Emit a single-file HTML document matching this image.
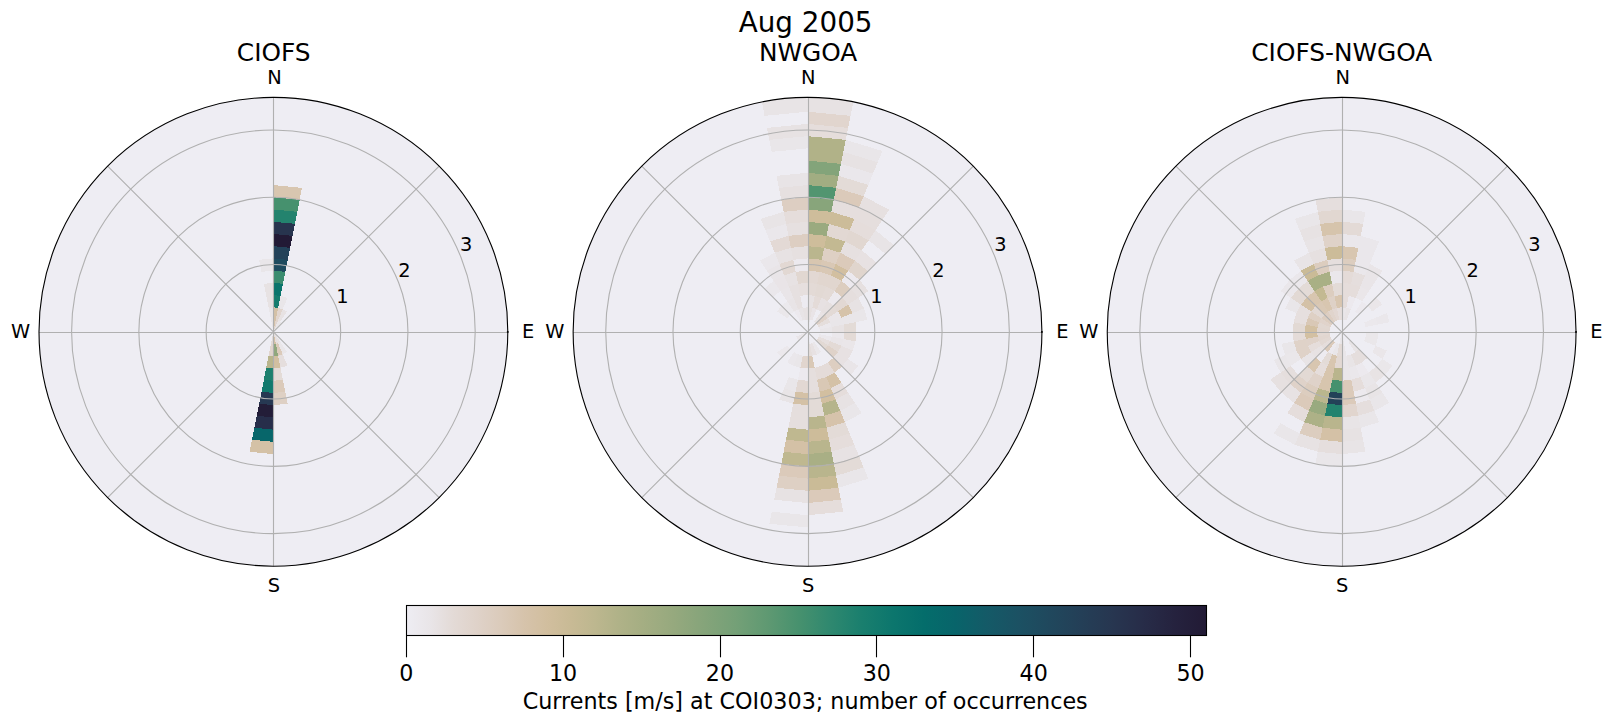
<!DOCTYPE html>
<html><head><meta charset="utf-8"><title>Aug 2005</title>
<style>html,body{margin:0;padding:0;background:#fff;}body{width:1611px;height:724px;overflow:hidden;position:relative;font-family:"DejaVu Sans","Liberation Sans",sans-serif;}</style></head>
<body>
<svg width="1611" height="724" viewBox="0 0 1611 724" style="position:absolute;left:0;top:0">
<defs>
<clipPath id="c0"><circle cx="273.4" cy="331.8" r="234.4"/></clipPath>
<clipPath id="c1"><circle cx="807.53" cy="331.8" r="234.4"/></clipPath>
<clipPath id="c2"><circle cx="1341.65" cy="331.8" r="234.4"/></clipPath>
<linearGradient id="cb" x1="0" x2="1" y1="0" y2="0"><stop offset="0.00%" stop-color="#eeedf3"/><stop offset="2.94%" stop-color="#e9e5e8"/><stop offset="5.88%" stop-color="#e3dad6"/><stop offset="8.82%" stop-color="#dfd2c9"/><stop offset="11.76%" stop-color="#dbcbbb"/><stop offset="14.71%" stop-color="#d6c3ab"/><stop offset="17.65%" stop-color="#d1be9e"/><stop offset="20.59%" stop-color="#c8ba95"/><stop offset="23.53%" stop-color="#bdb78f"/><stop offset="26.47%" stop-color="#b0b288"/><stop offset="29.41%" stop-color="#a5ae83"/><stop offset="33.33%" stop-color="#96a97e"/><stop offset="37.25%" stop-color="#85a47a"/><stop offset="41.18%" stop-color="#74a077"/><stop offset="45.10%" stop-color="#5f9972"/><stop offset="49.02%" stop-color="#47916e"/><stop offset="52.94%" stop-color="#2f886f"/><stop offset="56.86%" stop-color="#1a7f6e"/><stop offset="60.78%" stop-color="#0c766d"/><stop offset="64.71%" stop-color="#046d6b"/><stop offset="68.63%" stop-color="#08646a"/><stop offset="72.55%" stop-color="#145a67"/><stop offset="76.47%" stop-color="#1b5163"/><stop offset="80.39%" stop-color="#20485d"/><stop offset="84.31%" stop-color="#243f57"/><stop offset="88.24%" stop-color="#273650"/><stop offset="92.16%" stop-color="#272c48"/><stop offset="96.08%" stop-color="#25223e"/><stop offset="100.00%" stop-color="#221a35"/></linearGradient>
</defs>
<rect width="1611" height="724" fill="#fff"/>
<circle cx="273.4" cy="331.8" r="234.4" fill="#eeedf3"/>
<g clip-path="url(#c0)" shape-rendering="crispEdges">
<path d="M273.40 331.80 L273.40 331.80 L275.79 319.80 L273.40 319.57Z" fill="#d6c3ab"/>
<path d="M273.40 319.57 L275.79 319.80 L278.17 307.81 L273.40 307.34Z" fill="#d4c1a6"/>
<path d="M273.40 307.34 L278.17 307.81 L280.56 295.81 L273.40 295.11Z" fill="#167c6e"/>
<path d="M273.40 295.11 L280.56 295.81 L282.94 283.82 L273.40 282.88Z" fill="#0a746c"/>
<path d="M273.40 282.88 L282.94 283.82 L285.33 271.82 L273.40 270.65Z" fill="#3a8c6f"/>
<path d="M273.40 270.65 L285.33 271.82 L287.72 259.83 L273.40 258.42Z" fill="#1e4b5f"/>
<path d="M273.40 258.42 L287.72 259.83 L290.10 247.83 L273.40 246.19Z" fill="#234259"/>
<path d="M273.40 246.19 L290.10 247.83 L292.49 235.84 L273.40 233.96Z" fill="#221a35"/>
<path d="M273.40 233.96 L292.49 235.84 L294.87 223.84 L273.40 221.73Z" fill="#27344e"/>
<path d="M273.40 221.73 L294.87 223.84 L297.26 211.85 L273.40 209.50Z" fill="#23836e"/>
<path d="M273.40 209.50 L297.26 211.85 L299.65 199.85 L273.40 197.27Z" fill="#46916e"/>
<path d="M273.40 197.27 L299.65 199.85 L302.03 187.86 L273.40 185.04Z" fill="#d8c6b0"/>
<path d="M273.40 331.80 L273.40 331.80 L278.08 320.50 L275.79 319.80Z" fill="#e1d5ce"/>
<path d="M275.79 319.80 L278.08 320.50 L282.76 309.20 L278.17 307.81Z" fill="#e1d5ce"/>
<path d="M278.17 307.81 L282.76 309.20 L287.44 297.90 L280.56 295.81Z" fill="#e9e6e9"/>
<path d="M273.40 331.80 L273.40 331.80 L280.19 321.63 L278.08 320.50Z" fill="#e9e6e9"/>
<path d="M278.08 320.50 L280.19 321.63 L286.99 311.46 L282.76 309.20Z" fill="#e7e2e3"/>
<path d="M273.40 331.80 L273.40 331.80 L282.05 323.15 L280.19 321.63Z" fill="#e9e6e9"/>
<path d="M273.40 331.80 L273.40 331.80 L278.08 343.10 L280.19 341.97Z" fill="#e7e2e3"/>
<path d="M280.19 341.97 L278.08 343.10 L282.76 354.40 L286.99 352.14Z" fill="#e9e6e9"/>
<path d="M273.40 331.80 L273.40 331.80 L275.79 343.80 L278.08 343.10Z" fill="#e5dedd"/>
<path d="M278.08 343.10 L275.79 343.80 L278.17 355.79 L282.76 354.40Z" fill="#dbcaba"/>
<path d="M282.76 354.40 L278.17 355.79 L280.56 367.79 L287.44 365.70Z" fill="#e5dedd"/>
<path d="M273.40 331.80 L273.40 331.80 L273.40 344.03 L275.79 343.80Z" fill="#d4c1a6"/>
<path d="M275.79 343.80 L273.40 344.03 L273.40 356.26 L278.17 355.79Z" fill="#90a77d"/>
<path d="M278.17 355.79 L273.40 356.26 L273.40 368.49 L280.56 367.79Z" fill="#d2bfa0"/>
<path d="M280.56 367.79 L273.40 368.49 L273.40 380.72 L282.94 379.78Z" fill="#e3dbd7"/>
<path d="M282.94 379.78 L273.40 380.72 L273.40 392.95 L285.33 391.78Z" fill="#dbcaba"/>
<path d="M285.33 391.78 L273.40 392.95 L273.40 405.18 L287.72 403.77Z" fill="#ded0c4"/>
<path d="M273.40 331.80 L273.40 331.80 L271.01 343.80 L273.40 344.03Z" fill="#e3dbd7"/>
<path d="M273.40 344.03 L271.01 343.80 L268.63 355.79 L273.40 356.26Z" fill="#e1d5ce"/>
<path d="M273.40 356.26 L268.63 355.79 L266.24 367.79 L273.40 368.49Z" fill="#b9b58d"/>
<path d="M273.40 368.49 L266.24 367.79 L263.86 379.78 L273.40 380.72Z" fill="#1d806e"/>
<path d="M273.40 380.72 L263.86 379.78 L261.47 391.78 L273.40 392.95Z" fill="#10796d"/>
<path d="M273.40 392.95 L261.47 391.78 L259.08 403.77 L273.40 405.18Z" fill="#263852"/>
<path d="M273.40 405.18 L259.08 403.77 L256.70 415.77 L273.40 417.41Z" fill="#231d38"/>
<path d="M273.40 417.41 L256.70 415.77 L254.31 427.76 L273.40 429.64Z" fill="#272e4a"/>
<path d="M273.40 429.64 L254.31 427.76 L251.93 439.76 L273.40 441.87Z" fill="#07666a"/>
<path d="M273.40 441.87 L251.93 439.76 L249.54 451.75 L273.40 454.10Z" fill="#d4c1a6"/>
<path d="M273.40 331.80 L273.40 331.80 L273.40 319.57 L271.01 319.80Z" fill="#e9e6e9"/>
<path d="M271.01 319.80 L273.40 319.57 L273.40 307.34 L268.63 307.81Z" fill="#e9e6e9"/>
<path d="M268.63 307.81 L273.40 307.34 L273.40 295.11 L266.24 295.81Z" fill="#e7e2e3"/>
<path d="M266.24 295.81 L273.40 295.11 L273.40 282.88 L263.86 283.82Z" fill="#e7e2e3"/>
<path d="M261.47 271.82 L273.40 270.65 L273.40 258.42 L259.08 259.83Z" fill="#e9e6e9"/>
</g>
<path d="M273.40 331.80L439.15 166.05M273.40 331.80L439.15 497.55M273.40 331.80L107.65 497.55M273.40 331.80L107.65 166.05M273.5 97.40V566.20M39.00 332.5H507.80" stroke="#b0b0b0" stroke-width="1.1" fill="none"/>
<circle cx="273.4" cy="331.8" r="67.27" stroke="#b0b0b0" stroke-width="1.1" fill="none"/>
<circle cx="273.4" cy="331.8" r="134.54" stroke="#b0b0b0" stroke-width="1.1" fill="none"/>
<circle cx="273.4" cy="331.8" r="201.81" stroke="#b0b0b0" stroke-width="1.1" fill="none"/>
<circle cx="273.4" cy="331.8" r="234.4" stroke="#000" stroke-width="1.1" fill="none"/>
<rect x="506.90" y="331.10" width="1.7" height="1.7" fill="#000"/>
<text x="274.45" y="84.0" font-size="19.4" text-anchor="middle" font-family="DejaVu Sans, sans-serif">N</text>
<text x="274.00" y="592" font-size="19.4" text-anchor="middle" font-family="DejaVu Sans, sans-serif">S</text>
<text x="528.25" y="338" font-size="19.4" text-anchor="middle" font-family="DejaVu Sans, sans-serif">E</text>
<text x="20.65" y="338" font-size="19.4" text-anchor="middle" font-family="DejaVu Sans, sans-serif">W</text>
<text x="342.30" y="303" font-size="19.4" text-anchor="middle" font-family="DejaVu Sans, sans-serif">1</text>
<text x="404.40" y="277" font-size="19.4" text-anchor="middle" font-family="DejaVu Sans, sans-serif">2</text>
<text x="466.20" y="251" font-size="19.4" text-anchor="middle" font-family="DejaVu Sans, sans-serif">3</text>
<text x="273.7" y="61" font-size="24.8" text-anchor="middle" font-family="DejaVu Sans, sans-serif">CIOFS</text>
<circle cx="807.53" cy="331.8" r="234.4" fill="#eeedf3"/>
<g clip-path="url(#c1)" shape-rendering="crispEdges">
<path d="M807.53 331.80 L807.53 331.80 L809.92 319.80 L807.53 319.57Z" fill="#e9e6e9"/>
<path d="M807.53 319.57 L809.92 319.80 L812.30 307.81 L807.53 307.34Z" fill="#e6e0e0"/>
<path d="M807.53 307.34 L812.30 307.81 L814.69 295.81 L807.53 295.11Z" fill="#e7e2e3"/>
<path d="M807.53 295.11 L814.69 295.81 L817.07 283.82 L807.53 282.88Z" fill="#e3dad6"/>
<path d="M807.53 282.88 L817.07 283.82 L819.46 271.82 L807.53 270.65Z" fill="#e2d8d3"/>
<path d="M807.53 270.65 L819.46 271.82 L821.85 259.83 L807.53 258.42Z" fill="#d8c6b0"/>
<path d="M807.53 258.42 L821.85 259.83 L824.23 247.83 L807.53 246.19Z" fill="#bab68e"/>
<path d="M807.53 246.19 L824.23 247.83 L826.62 235.84 L807.53 233.96Z" fill="#cebd9b"/>
<path d="M807.53 233.96 L826.62 235.84 L829.00 223.84 L807.53 221.73Z" fill="#9aaa7f"/>
<path d="M807.53 221.73 L829.00 223.84 L831.39 211.85 L807.53 209.50Z" fill="#cebd9b"/>
<path d="M807.53 209.50 L831.39 211.85 L833.78 199.85 L807.53 197.27Z" fill="#88a57b"/>
<path d="M807.53 197.27 L833.78 199.85 L836.16 187.86 L807.53 185.04Z" fill="#529570"/>
<path d="M807.53 185.04 L836.16 187.86 L838.55 175.86 L807.53 172.81Z" fill="#a1ad82"/>
<path d="M807.53 172.81 L838.55 175.86 L840.93 163.87 L807.53 160.58Z" fill="#83a47a"/>
<path d="M807.53 160.58 L840.93 163.87 L843.32 151.87 L807.53 148.35Z" fill="#b1b288"/>
<path d="M807.53 148.35 L843.32 151.87 L845.71 139.88 L807.53 136.12Z" fill="#b1b288"/>
<path d="M807.53 136.12 L845.71 139.88 L848.09 127.88 L807.53 123.89Z" fill="#e5dddb"/>
<path d="M807.53 123.89 L848.09 127.88 L850.48 115.89 L807.53 111.66Z" fill="#e1d5ce"/>
<path d="M807.53 111.66 L850.48 115.89 L853.58 100.30 L807.53 95.76Z" fill="#e7e2e3"/>
<path d="M809.92 319.80 L812.21 320.50 L816.89 309.20 L812.30 307.81Z" fill="#e9e4e7"/>
<path d="M812.30 307.81 L816.89 309.20 L821.57 297.90 L814.69 295.81Z" fill="#e4dbd8"/>
<path d="M814.69 295.81 L821.57 297.90 L826.25 286.60 L817.07 283.82Z" fill="#e2d9d4"/>
<path d="M817.07 283.82 L826.25 286.60 L830.93 275.30 L819.46 271.82Z" fill="#e1d6cf"/>
<path d="M819.46 271.82 L830.93 275.30 L835.61 264.01 L821.85 259.83Z" fill="#d9c8b5"/>
<path d="M821.85 259.83 L835.61 264.01 L840.29 252.71 L824.23 247.83Z" fill="#ded0c4"/>
<path d="M824.23 247.83 L840.29 252.71 L844.97 241.41 L826.62 235.84Z" fill="#c3b992"/>
<path d="M826.62 235.84 L844.97 241.41 L849.65 230.11 L829.00 223.84Z" fill="#e2d8d3"/>
<path d="M829.00 223.84 L849.65 230.11 L854.33 218.81 L831.39 211.85Z" fill="#ccbc99"/>
<path d="M831.39 211.85 L854.33 218.81 L859.01 207.51 L833.78 199.85Z" fill="#e5dedd"/>
<path d="M833.78 199.85 L859.01 207.51 L863.69 196.21 L836.16 187.86Z" fill="#dbcaba"/>
<path d="M836.16 187.86 L863.69 196.21 L868.37 184.91 L838.55 175.86Z" fill="#e3dbd7"/>
<path d="M838.55 175.86 L868.37 184.91 L873.05 173.61 L840.93 163.87Z" fill="#eae7eb"/>
<path d="M840.93 163.87 L873.05 173.61 L877.73 162.31 L843.32 151.87Z" fill="#e7e2e3"/>
<path d="M843.32 151.87 L877.73 162.31 L882.41 151.02 L845.71 139.88Z" fill="#e9e6e9"/>
<path d="M816.89 309.20 L821.12 311.46 L827.91 301.29 L821.57 297.90Z" fill="#e7e1e2"/>
<path d="M821.57 297.90 L827.91 301.29 L834.71 291.12 L826.25 286.60Z" fill="#e3dad6"/>
<path d="M826.25 286.60 L834.71 291.12 L841.50 280.96 L830.93 275.30Z" fill="#e1d6cf"/>
<path d="M830.93 275.30 L841.50 280.96 L848.30 270.79 L835.61 264.01Z" fill="#d2bfa0"/>
<path d="M835.61 264.01 L848.30 270.79 L855.09 260.62 L840.29 252.71Z" fill="#dbcaba"/>
<path d="M840.29 252.71 L855.09 260.62 L861.89 250.45 L844.97 241.41Z" fill="#e6e0e0"/>
<path d="M844.97 241.41 L861.89 250.45 L868.68 240.28 L849.65 230.11Z" fill="#e1d7d1"/>
<path d="M849.65 230.11 L868.68 240.28 L875.48 230.11 L854.33 218.81Z" fill="#e5dddb"/>
<path d="M854.33 218.81 L875.48 230.11 L882.27 219.94 L859.01 207.51Z" fill="#e5dedd"/>
<path d="M859.01 207.51 L882.27 219.94 L889.07 209.77 L863.69 196.21Z" fill="#e6e0e0"/>
<path d="M814.32 321.63 L816.18 323.15 L824.83 314.50 L821.12 311.46Z" fill="#e8e3e4"/>
<path d="M821.12 311.46 L824.83 314.50 L833.47 305.86 L827.91 301.29Z" fill="#e6e0e0"/>
<path d="M827.91 301.29 L833.47 305.86 L842.12 297.21 L834.71 291.12Z" fill="#ece9ee"/>
<path d="M834.71 291.12 L842.12 297.21 L850.77 288.56 L841.50 280.96Z" fill="#dccdbf"/>
<path d="M841.50 280.96 L850.77 288.56 L859.42 279.91 L848.30 270.79Z" fill="#ece9ee"/>
<path d="M848.30 270.79 L859.42 279.91 L868.07 271.26 L855.09 260.62Z" fill="#e0d5cd"/>
<path d="M855.09 260.62 L868.07 271.26 L876.71 262.62 L861.89 250.45Z" fill="#e7e1e2"/>
<path d="M868.68 240.28 L885.36 253.97 L894.01 245.32 L875.48 230.11Z" fill="#e8e4e6"/>
<path d="M816.18 323.15 L817.70 325.01 L827.87 318.21 L824.83 314.50Z" fill="#dfd2c9"/>
<path d="M824.83 314.50 L827.87 318.21 L838.04 311.42 L833.47 305.86Z" fill="#e3dad6"/>
<path d="M833.47 305.86 L838.04 311.42 L848.21 304.62 L842.12 297.21Z" fill="#e2d8d3"/>
<path d="M842.12 297.21 L848.21 304.62 L858.37 297.83 L850.77 288.56Z" fill="#e5dedd"/>
<path d="M850.77 288.56 L858.37 297.83 L868.54 291.03 L859.42 279.91Z" fill="#e6e0e0"/>
<path d="M817.70 325.01 L818.83 327.12 L830.13 322.44 L827.87 318.21Z" fill="#e5dedc"/>
<path d="M827.87 318.21 L830.13 322.44 L841.43 317.76 L838.04 311.42Z" fill="#eae6e9"/>
<path d="M838.04 311.42 L841.43 317.76 L852.73 313.08 L848.21 304.62Z" fill="#d6c3aa"/>
<path d="M848.21 304.62 L852.73 313.08 L864.03 308.40 L858.37 297.83Z" fill="#e7e2e3"/>
<path d="M818.83 327.12 L819.53 329.41 L831.52 327.03 L830.13 322.44Z" fill="#ebe8ec"/>
<path d="M830.13 322.44 L831.52 327.03 L843.52 324.64 L841.43 317.76Z" fill="#e9e6e9"/>
<path d="M841.43 317.76 L843.52 324.64 L855.51 322.26 L852.73 313.08Z" fill="#e9e6e9"/>
<path d="M852.73 313.08 L855.51 322.26 L867.51 319.87 L864.03 308.40Z" fill="#e9e6e9"/>
<path d="M819.53 329.41 L819.76 331.80 L831.99 331.80 L831.52 327.03Z" fill="#e9e6e9"/>
<path d="M831.52 327.03 L831.99 331.80 L844.22 331.80 L843.52 324.64Z" fill="#e7e2e3"/>
<path d="M843.52 324.64 L844.22 331.80 L856.45 331.80 L855.51 322.26Z" fill="#e3dbd7"/>
<path d="M831.99 331.80 L831.52 336.57 L843.52 338.96 L844.22 331.80Z" fill="#ebe8ec"/>
<path d="M844.22 331.80 L843.52 338.96 L855.51 341.34 L856.45 331.80Z" fill="#e3dad6"/>
<path d="M819.53 334.19 L818.83 336.48 L830.13 341.16 L831.52 336.57Z" fill="#ebe8ec"/>
<path d="M831.52 336.57 L830.13 341.16 L841.43 345.84 L843.52 338.96Z" fill="#e9e5e8"/>
<path d="M843.52 338.96 L841.43 345.84 L852.73 350.52 L855.51 341.34Z" fill="#eae6e9"/>
<path d="M818.83 336.48 L817.70 338.59 L827.87 345.39 L830.13 341.16Z" fill="#e6dfde"/>
<path d="M830.13 341.16 L827.87 345.39 L838.04 352.18 L841.43 345.84Z" fill="#e3dad6"/>
<path d="M841.43 345.84 L838.04 352.18 L848.21 358.98 L852.73 350.52Z" fill="#e7e1e2"/>
<path d="M817.70 338.59 L816.18 340.45 L824.83 349.10 L827.87 345.39Z" fill="#e2d9d4"/>
<path d="M827.87 345.39 L824.83 349.10 L833.47 357.74 L838.04 352.18Z" fill="#dfd2c9"/>
<path d="M838.04 352.18 L833.47 357.74 L842.12 366.39 L848.21 358.98Z" fill="#e7e1e2"/>
<path d="M848.21 358.98 L842.12 366.39 L850.77 375.04 L858.37 365.77Z" fill="#e9e5e8"/>
<path d="M833.47 357.74 L827.91 362.31 L834.71 372.48 L842.12 366.39Z" fill="#ddcec1"/>
<path d="M814.32 341.97 L812.21 343.10 L816.89 354.40 L821.12 352.14Z" fill="#eae7ea"/>
<path d="M827.91 362.31 L821.57 365.70 L826.25 377.00 L834.71 372.48Z" fill="#e4dbd8"/>
<path d="M834.71 372.48 L826.25 377.00 L830.93 388.30 L841.50 382.64Z" fill="#d4c1a6"/>
<path d="M841.50 382.64 L830.93 388.30 L835.61 399.59 L848.30 392.81Z" fill="#e5dddb"/>
<path d="M848.30 392.81 L835.61 399.59 L840.29 410.89 L855.09 402.98Z" fill="#e7e2e3"/>
<path d="M855.09 402.98 L840.29 410.89 L844.97 422.19 L861.89 413.15Z" fill="#e9e6e9"/>
<path d="M812.21 343.10 L809.92 343.80 L812.30 355.79 L816.89 354.40Z" fill="#e7e1e2"/>
<path d="M821.57 365.70 L814.69 367.79 L817.07 379.78 L826.25 377.00Z" fill="#e4dbd8"/>
<path d="M826.25 377.00 L817.07 379.78 L819.46 391.78 L830.93 388.30Z" fill="#d9c8b5"/>
<path d="M830.93 388.30 L819.46 391.78 L821.85 403.77 L835.61 399.59Z" fill="#d2bfa0"/>
<path d="M835.61 399.59 L821.85 403.77 L824.23 415.77 L840.29 410.89Z" fill="#b5b48b"/>
<path d="M840.29 410.89 L824.23 415.77 L826.62 427.76 L844.97 422.19Z" fill="#d6c3ab"/>
<path d="M844.97 422.19 L826.62 427.76 L829.00 439.76 L849.65 433.49Z" fill="#e3dbd7"/>
<path d="M849.65 433.49 L829.00 439.76 L831.39 451.75 L854.33 444.79Z" fill="#e5dddb"/>
<path d="M854.33 444.79 L831.39 451.75 L833.78 463.75 L859.01 456.09Z" fill="#e7e2e3"/>
<path d="M859.01 456.09 L833.78 463.75 L836.16 475.74 L863.69 467.39Z" fill="#e3dbd7"/>
<path d="M863.69 467.39 L836.16 475.74 L838.55 487.74 L868.37 478.69Z" fill="#e9e6e9"/>
<path d="M807.53 331.80 L807.53 331.80 L807.53 344.03 L809.92 343.80Z" fill="#eae7ea"/>
<path d="M809.92 343.80 L807.53 344.03 L807.53 356.26 L812.30 355.79Z" fill="#e5dedc"/>
<path d="M812.30 355.79 L807.53 356.26 L807.53 368.49 L814.69 367.79Z" fill="#d9c8b6"/>
<path d="M814.69 367.79 L807.53 368.49 L807.53 380.72 L817.07 379.78Z" fill="#e5dedd"/>
<path d="M817.07 379.78 L807.53 380.72 L807.53 392.95 L819.46 391.78Z" fill="#e5dedd"/>
<path d="M819.46 391.78 L807.53 392.95 L807.53 405.18 L821.85 403.77Z" fill="#e3dbd7"/>
<path d="M821.85 403.77 L807.53 405.18 L807.53 417.41 L824.23 415.77Z" fill="#e3dbd7"/>
<path d="M824.23 415.77 L807.53 417.41 L807.53 429.64 L826.62 427.76Z" fill="#b9b58d"/>
<path d="M826.62 427.76 L807.53 429.64 L807.53 441.87 L829.00 439.76Z" fill="#cdbc9a"/>
<path d="M829.00 439.76 L807.53 441.87 L807.53 454.10 L831.39 451.75Z" fill="#b9b58d"/>
<path d="M831.39 451.75 L807.53 454.10 L807.53 466.33 L833.78 463.75Z" fill="#a9af85"/>
<path d="M833.78 463.75 L807.53 466.33 L807.53 478.56 L836.16 475.74Z" fill="#b9b58d"/>
<path d="M836.16 475.74 L807.53 478.56 L807.53 490.79 L838.55 487.74Z" fill="#cabb97"/>
<path d="M838.55 487.74 L807.53 490.79 L807.53 503.02 L840.93 499.73Z" fill="#dbcaba"/>
<path d="M840.93 499.73 L807.53 503.02 L807.53 515.25 L843.32 511.73Z" fill="#e5dddb"/>
<path d="M807.53 356.26 L802.76 355.79 L800.37 367.79 L807.53 368.49Z" fill="#e1d5ce"/>
<path d="M807.53 368.49 L800.37 367.79 L797.99 379.78 L807.53 380.72Z" fill="#ece9ee"/>
<path d="M807.53 380.72 L797.99 379.78 L795.60 391.78 L807.53 392.95Z" fill="#e2d8d3"/>
<path d="M807.53 392.95 L795.60 391.78 L793.21 403.77 L807.53 405.18Z" fill="#d4c1a6"/>
<path d="M807.53 405.18 L793.21 403.77 L790.83 415.77 L807.53 417.41Z" fill="#e5dedd"/>
<path d="M807.53 417.41 L790.83 415.77 L788.44 427.76 L807.53 429.64Z" fill="#e5dedd"/>
<path d="M807.53 429.64 L788.44 427.76 L786.06 439.76 L807.53 441.87Z" fill="#bfb890"/>
<path d="M807.53 441.87 L786.06 439.76 L783.67 451.75 L807.53 454.10Z" fill="#d4c1a6"/>
<path d="M807.53 454.10 L783.67 451.75 L781.28 463.75 L807.53 466.33Z" fill="#bfb890"/>
<path d="M807.53 466.33 L781.28 463.75 L778.90 475.74 L807.53 478.56Z" fill="#dbcaba"/>
<path d="M807.53 478.56 L778.90 475.74 L776.51 487.74 L807.53 490.79Z" fill="#ded0c4"/>
<path d="M807.53 490.79 L776.51 487.74 L774.13 499.73 L807.53 503.02Z" fill="#e7e2e3"/>
<path d="M807.53 515.25 L771.74 511.73 L769.35 523.72 L807.53 527.48Z" fill="#e9e6e9"/>
<path d="M802.76 355.79 L798.17 354.40 L793.49 365.70 L800.37 367.79Z" fill="#e9e6e9"/>
<path d="M797.99 379.78 L788.81 377.00 L784.13 388.30 L795.60 391.78Z" fill="#e9e6e9"/>
<path d="M795.60 391.78 L784.13 388.30 L779.45 399.59 L793.21 403.77Z" fill="#e8e4e6"/>
<path d="M798.17 354.40 L793.94 352.14 L787.15 362.31 L793.49 365.70Z" fill="#eae7eb"/>
<path d="M807.53 331.80 L807.53 331.80 L797.36 338.59 L798.88 340.45Z" fill="#eae6e9"/>
<path d="M790.23 349.10 L787.19 345.39 L777.02 352.18 L781.59 357.74Z" fill="#ebe8ec"/>
<path d="M807.53 331.80 L807.53 331.80 L796.23 336.48 L797.36 338.59Z" fill="#e9e5e8"/>
<path d="M787.19 318.21 L790.23 314.50 L781.59 305.86 L777.02 311.42Z" fill="#eae7ea"/>
<path d="M790.23 314.50 L793.94 311.46 L787.15 301.29 L781.59 305.86Z" fill="#ebe9ed"/>
<path d="M772.94 297.21 L780.35 291.12 L773.56 280.96 L764.29 288.56Z" fill="#eae7eb"/>
<path d="M800.74 321.63 L802.85 320.50 L798.17 309.20 L793.94 311.46Z" fill="#ece9ee"/>
<path d="M793.94 311.46 L798.17 309.20 L793.49 297.90 L787.15 301.29Z" fill="#e8e4e6"/>
<path d="M787.15 301.29 L793.49 297.90 L788.81 286.60 L780.35 291.12Z" fill="#e9e5e8"/>
<path d="M780.35 291.12 L788.81 286.60 L784.13 275.30 L773.56 280.96Z" fill="#e9e4e7"/>
<path d="M773.56 280.96 L784.13 275.30 L779.45 264.01 L766.76 270.79Z" fill="#e9e5e8"/>
<path d="M766.76 270.79 L779.45 264.01 L774.77 252.71 L759.97 260.62Z" fill="#eae7eb"/>
<path d="M802.85 320.50 L805.14 319.80 L802.76 307.81 L798.17 309.20Z" fill="#e8e4e6"/>
<path d="M798.17 309.20 L802.76 307.81 L800.37 295.81 L793.49 297.90Z" fill="#e6e0e0"/>
<path d="M793.49 297.90 L800.37 295.81 L797.99 283.82 L788.81 286.60Z" fill="#e6e0e0"/>
<path d="M788.81 286.60 L797.99 283.82 L795.60 271.82 L784.13 275.30Z" fill="#e7e2e3"/>
<path d="M784.13 275.30 L795.60 271.82 L793.21 259.83 L779.45 264.01Z" fill="#e2d8d3"/>
<path d="M779.45 264.01 L793.21 259.83 L790.83 247.83 L774.77 252.71Z" fill="#e7e2e3"/>
<path d="M774.77 252.71 L790.83 247.83 L788.44 235.84 L770.09 241.41Z" fill="#e3d9d5"/>
<path d="M770.09 241.41 L788.44 235.84 L786.06 223.84 L765.41 230.11Z" fill="#eae7eb"/>
<path d="M765.41 230.11 L786.06 223.84 L783.67 211.85 L760.73 218.81Z" fill="#e8e4e6"/>
<path d="M805.14 319.80 L807.53 319.57 L807.53 307.34 L802.76 307.81Z" fill="#e7e2e3"/>
<path d="M802.76 307.81 L807.53 307.34 L807.53 295.11 L800.37 295.81Z" fill="#edebf1"/>
<path d="M800.37 295.81 L807.53 295.11 L807.53 282.88 L797.99 283.82Z" fill="#e6dfde"/>
<path d="M797.99 283.82 L807.53 282.88 L807.53 270.65 L795.60 271.82Z" fill="#e1d7d1"/>
<path d="M795.60 271.82 L807.53 270.65 L807.53 258.42 L793.21 259.83Z" fill="#ece9ee"/>
<path d="M793.21 259.83 L807.53 258.42 L807.53 246.19 L790.83 247.83Z" fill="#e6e0e0"/>
<path d="M790.83 247.83 L807.53 246.19 L807.53 233.96 L788.44 235.84Z" fill="#ddcec2"/>
<path d="M788.44 235.84 L807.53 233.96 L807.53 221.73 L786.06 223.84Z" fill="#e6e0e0"/>
<path d="M786.06 223.84 L807.53 221.73 L807.53 209.50 L783.67 211.85Z" fill="#e5dddb"/>
<path d="M783.67 211.85 L807.53 209.50 L807.53 197.27 L781.28 199.85Z" fill="#ddcec2"/>
<path d="M781.28 199.85 L807.53 197.27 L807.53 185.04 L778.90 187.86Z" fill="#e6e0e0"/>
<path d="M778.90 187.86 L807.53 185.04 L807.53 172.81 L776.51 175.86Z" fill="#e8e4e6"/>
<path d="M771.74 151.87 L807.53 148.35 L807.53 136.12 L769.35 139.88Z" fill="#e9e6e9"/>
<path d="M769.35 139.88 L807.53 136.12 L807.53 123.89 L766.97 127.88Z" fill="#e7e2e3"/>
<path d="M764.58 115.89 L807.53 111.66 L807.53 95.76 L761.48 100.30Z" fill="#e8e4e6"/>
</g>
<path d="M807.53 331.80L973.28 166.05M807.53 331.80L973.28 497.55M807.53 331.80L641.78 497.55M807.53 331.80L641.78 166.05M808.5 97.40V566.20M573.13 332.5H1041.93" stroke="#b0b0b0" stroke-width="1.1" fill="none"/>
<circle cx="807.53" cy="331.8" r="67.27" stroke="#b0b0b0" stroke-width="1.1" fill="none"/>
<circle cx="807.53" cy="331.8" r="134.54" stroke="#b0b0b0" stroke-width="1.1" fill="none"/>
<circle cx="807.53" cy="331.8" r="201.81" stroke="#b0b0b0" stroke-width="1.1" fill="none"/>
<circle cx="807.53" cy="331.8" r="234.4" stroke="#000" stroke-width="1.1" fill="none"/>
<rect x="1041.03" y="331.10" width="1.7" height="1.7" fill="#000"/>
<text x="808.35" y="84.0" font-size="19.4" text-anchor="middle" font-family="DejaVu Sans, sans-serif">N</text>
<text x="808.13" y="592" font-size="19.4" text-anchor="middle" font-family="DejaVu Sans, sans-serif">S</text>
<text x="1062.38" y="338" font-size="19.4" text-anchor="middle" font-family="DejaVu Sans, sans-serif">E</text>
<text x="554.78" y="338" font-size="19.4" text-anchor="middle" font-family="DejaVu Sans, sans-serif">W</text>
<text x="876.43" y="303" font-size="19.4" text-anchor="middle" font-family="DejaVu Sans, sans-serif">1</text>
<text x="938.53" y="277" font-size="19.4" text-anchor="middle" font-family="DejaVu Sans, sans-serif">2</text>
<text x="1000.33" y="251" font-size="19.4" text-anchor="middle" font-family="DejaVu Sans, sans-serif">3</text>
<text x="808.06" y="61" font-size="24.8" text-anchor="middle" font-family="DejaVu Sans, sans-serif">NWGOA</text>
<circle cx="1341.65" cy="331.8" r="234.4" fill="#eeedf3"/>
<g clip-path="url(#c2)" shape-rendering="crispEdges">
<path d="M1341.65 319.57 L1344.04 319.80 L1346.42 307.81 L1341.65 307.34Z" fill="#e9e6e9"/>
<path d="M1341.65 307.34 L1346.42 307.81 L1348.81 295.81 L1341.65 295.11Z" fill="#e5dddb"/>
<path d="M1341.65 295.11 L1348.81 295.81 L1351.19 283.82 L1341.65 282.88Z" fill="#e5dddb"/>
<path d="M1341.65 282.88 L1351.19 283.82 L1353.58 271.82 L1341.65 270.65Z" fill="#e4dbd8"/>
<path d="M1341.65 270.65 L1353.58 271.82 L1355.97 259.83 L1341.65 258.42Z" fill="#dccdbf"/>
<path d="M1341.65 258.42 L1355.97 259.83 L1358.35 247.83 L1341.65 246.19Z" fill="#d8c6b0"/>
<path d="M1341.65 246.19 L1358.35 247.83 L1360.74 235.84 L1341.65 233.96Z" fill="#eae7eb"/>
<path d="M1341.65 233.96 L1360.74 235.84 L1363.12 223.84 L1341.65 221.73Z" fill="#e3dad6"/>
<path d="M1341.65 221.73 L1363.12 223.84 L1365.51 211.85 L1341.65 209.50Z" fill="#e9e6e9"/>
<path d="M1344.04 319.80 L1346.33 320.50 L1351.01 309.20 L1346.42 307.81Z" fill="#e8e4e6"/>
<path d="M1346.42 307.81 L1351.01 309.20 L1355.69 297.90 L1348.81 295.81Z" fill="#ece9ee"/>
<path d="M1348.81 295.81 L1355.69 297.90 L1360.37 286.60 L1351.19 283.82Z" fill="#e5dddb"/>
<path d="M1351.19 283.82 L1360.37 286.60 L1365.05 275.30 L1353.58 271.82Z" fill="#e5dedd"/>
<path d="M1353.58 271.82 L1365.05 275.30 L1369.73 264.01 L1355.97 259.83Z" fill="#eae7eb"/>
<path d="M1355.97 259.83 L1369.73 264.01 L1374.41 252.71 L1358.35 247.83Z" fill="#eae7eb"/>
<path d="M1358.35 247.83 L1374.41 252.71 L1379.09 241.41 L1360.74 235.84Z" fill="#eae7eb"/>
<path d="M1355.69 297.90 L1362.03 301.29 L1368.83 291.12 L1360.37 286.60Z" fill="#eae6e9"/>
<path d="M1360.37 286.60 L1368.83 291.12 L1375.62 280.96 L1365.05 275.30Z" fill="#e9e5e8"/>
<path d="M1365.05 275.30 L1375.62 280.96 L1382.42 270.79 L1369.73 264.01Z" fill="#e9e5e8"/>
<path d="M1355.24 311.46 L1358.95 314.50 L1367.59 305.86 L1362.03 301.29Z" fill="#ece9ee"/>
<path d="M1367.59 305.86 L1372.16 311.42 L1382.33 304.62 L1376.24 297.21Z" fill="#eae6e9"/>
<path d="M1364.25 322.44 L1365.64 327.03 L1377.64 324.64 L1375.55 317.76Z" fill="#ebe8ec"/>
<path d="M1375.55 317.76 L1377.64 324.64 L1389.63 322.26 L1386.85 313.08Z" fill="#eae7eb"/>
<path d="M1366.11 331.80 L1365.64 336.57 L1377.64 338.96 L1378.34 331.80Z" fill="#eae7ea"/>
<path d="M1365.64 336.57 L1364.25 341.16 L1375.55 345.84 L1377.64 338.96Z" fill="#eae7ea"/>
<path d="M1375.55 345.84 L1372.16 352.18 L1382.33 358.98 L1386.85 350.52Z" fill="#eae6e9"/>
<path d="M1382.33 358.98 L1376.24 366.39 L1384.89 375.04 L1392.49 365.77Z" fill="#eae7ea"/>
<path d="M1350.30 340.45 L1348.44 341.97 L1355.24 352.14 L1358.95 349.10Z" fill="#e8e4e6"/>
<path d="M1358.95 349.10 L1355.24 352.14 L1362.03 362.31 L1367.59 357.74Z" fill="#e5dedd"/>
<path d="M1376.24 366.39 L1368.83 372.48 L1375.62 382.64 L1384.89 375.04Z" fill="#e8e3e4"/>
<path d="M1355.24 352.14 L1351.01 354.40 L1355.69 365.70 L1362.03 362.31Z" fill="#e5dedd"/>
<path d="M1362.03 362.31 L1355.69 365.70 L1360.37 377.00 L1368.83 372.48Z" fill="#ece9ee"/>
<path d="M1368.83 372.48 L1360.37 377.00 L1365.05 388.30 L1375.62 382.64Z" fill="#e9e6e9"/>
<path d="M1375.62 382.64 L1365.05 388.30 L1369.73 399.59 L1382.42 392.81Z" fill="#e8e4e6"/>
<path d="M1382.42 392.81 L1369.73 399.59 L1374.41 410.89 L1389.21 402.98Z" fill="#e9e6e9"/>
<path d="M1351.01 354.40 L1346.42 355.79 L1348.81 367.79 L1355.69 365.70Z" fill="#e8e4e6"/>
<path d="M1355.69 365.70 L1348.81 367.79 L1351.19 379.78 L1360.37 377.00Z" fill="#eae7eb"/>
<path d="M1360.37 377.00 L1351.19 379.78 L1353.58 391.78 L1365.05 388.30Z" fill="#e5dddb"/>
<path d="M1365.05 388.30 L1353.58 391.78 L1355.97 403.77 L1369.73 399.59Z" fill="#ece9ee"/>
<path d="M1369.73 399.59 L1355.97 403.77 L1358.35 415.77 L1374.41 410.89Z" fill="#e5dedd"/>
<path d="M1374.41 410.89 L1358.35 415.77 L1360.74 427.76 L1379.09 422.19Z" fill="#e9e6e9"/>
<path d="M1341.65 331.80 L1341.65 331.80 L1341.65 344.03 L1344.04 343.80Z" fill="#eae7eb"/>
<path d="M1344.04 343.80 L1341.65 344.03 L1341.65 356.26 L1346.42 355.79Z" fill="#e9e6e9"/>
<path d="M1346.42 355.79 L1341.65 356.26 L1341.65 368.49 L1348.81 367.79Z" fill="#e9e6e9"/>
<path d="M1348.81 367.79 L1341.65 368.49 L1341.65 380.72 L1351.19 379.78Z" fill="#e9e6e9"/>
<path d="M1351.19 379.78 L1341.65 380.72 L1341.65 392.95 L1353.58 391.78Z" fill="#dbcaba"/>
<path d="M1353.58 391.78 L1341.65 392.95 L1341.65 405.18 L1355.97 403.77Z" fill="#dbcaba"/>
<path d="M1355.97 403.77 L1341.65 405.18 L1341.65 417.41 L1358.35 415.77Z" fill="#e1d5ce"/>
<path d="M1358.35 415.77 L1341.65 417.41 L1341.65 429.64 L1360.74 427.76Z" fill="#e8e4e6"/>
<path d="M1360.74 427.76 L1341.65 429.64 L1341.65 441.87 L1363.12 439.76Z" fill="#e7e2e3"/>
<path d="M1363.12 439.76 L1341.65 441.87 L1341.65 454.10 L1365.51 451.75Z" fill="#e8e4e6"/>
<path d="M1341.65 331.80 L1341.65 331.80 L1339.26 343.80 L1341.65 344.03Z" fill="#e9e6e9"/>
<path d="M1341.65 344.03 L1339.26 343.80 L1336.88 355.79 L1341.65 356.26Z" fill="#e3dad6"/>
<path d="M1341.65 356.26 L1336.88 355.79 L1334.49 367.79 L1341.65 368.49Z" fill="#e2d8d3"/>
<path d="M1341.65 368.49 L1334.49 367.79 L1332.11 379.78 L1341.65 380.72Z" fill="#b9b58d"/>
<path d="M1341.65 380.72 L1332.11 379.78 L1329.72 391.78 L1341.65 392.95Z" fill="#46916e"/>
<path d="M1341.65 392.95 L1329.72 391.78 L1327.33 403.77 L1341.65 405.18Z" fill="#234158"/>
<path d="M1341.65 405.18 L1327.33 403.77 L1324.95 415.77 L1341.65 417.41Z" fill="#23836e"/>
<path d="M1341.65 417.41 L1324.95 415.77 L1322.56 427.76 L1341.65 429.64Z" fill="#b9b58d"/>
<path d="M1341.65 429.64 L1322.56 427.76 L1320.18 439.76 L1341.65 441.87Z" fill="#d4c1a6"/>
<path d="M1341.65 441.87 L1320.18 439.76 L1317.79 451.75 L1341.65 454.10Z" fill="#e5dedd"/>
<path d="M1341.65 454.10 L1317.79 451.75 L1315.40 463.75 L1341.65 466.33Z" fill="#e9e6e9"/>
<path d="M1339.26 343.80 L1336.97 343.10 L1332.29 354.40 L1336.88 355.79Z" fill="#e9e6e9"/>
<path d="M1336.88 355.79 L1332.29 354.40 L1327.61 365.70 L1334.49 367.79Z" fill="#d8c6b0"/>
<path d="M1334.49 367.79 L1327.61 365.70 L1322.93 377.00 L1332.11 379.78Z" fill="#d7c5ae"/>
<path d="M1332.11 379.78 L1322.93 377.00 L1318.25 388.30 L1329.72 391.78Z" fill="#d7c5ae"/>
<path d="M1329.72 391.78 L1318.25 388.30 L1313.57 399.59 L1327.33 403.77Z" fill="#bab68e"/>
<path d="M1327.33 403.77 L1313.57 399.59 L1308.89 410.89 L1324.95 415.77Z" fill="#99aa7f"/>
<path d="M1324.95 415.77 L1308.89 410.89 L1304.21 422.19 L1322.56 427.76Z" fill="#adb187"/>
<path d="M1322.56 427.76 L1304.21 422.19 L1299.53 433.49 L1320.18 439.76Z" fill="#dccdbf"/>
<path d="M1320.18 439.76 L1299.53 433.49 L1294.85 444.79 L1317.79 451.75Z" fill="#e7e2e3"/>
<path d="M1336.97 343.10 L1334.86 341.97 L1328.06 352.14 L1332.29 354.40Z" fill="#ece9ee"/>
<path d="M1332.29 354.40 L1328.06 352.14 L1321.27 362.31 L1327.61 365.70Z" fill="#e3dbd7"/>
<path d="M1327.61 365.70 L1321.27 362.31 L1314.47 372.48 L1322.93 377.00Z" fill="#e5dddb"/>
<path d="M1322.93 377.00 L1314.47 372.48 L1307.68 382.64 L1318.25 388.30Z" fill="#dfd2c9"/>
<path d="M1318.25 388.30 L1307.68 382.64 L1300.88 392.81 L1313.57 399.59Z" fill="#dccdbf"/>
<path d="M1313.57 399.59 L1300.88 392.81 L1294.09 402.98 L1308.89 410.89Z" fill="#dbcaba"/>
<path d="M1308.89 410.89 L1294.09 402.98 L1287.29 413.15 L1304.21 422.19Z" fill="#e5dddb"/>
<path d="M1299.53 433.49 L1280.50 423.32 L1273.70 433.49 L1294.85 444.79Z" fill="#e9e6e9"/>
<path d="M1334.86 341.97 L1333.00 340.45 L1324.35 349.10 L1328.06 352.14Z" fill="#dbcaba"/>
<path d="M1328.06 352.14 L1324.35 349.10 L1315.71 357.74 L1321.27 362.31Z" fill="#edebf0"/>
<path d="M1321.27 362.31 L1315.71 357.74 L1307.06 366.39 L1314.47 372.48Z" fill="#d8c6b0"/>
<path d="M1314.47 372.48 L1307.06 366.39 L1298.41 375.04 L1307.68 382.64Z" fill="#e2d9d4"/>
<path d="M1307.68 382.64 L1298.41 375.04 L1289.76 383.69 L1300.88 392.81Z" fill="#dfd2c9"/>
<path d="M1300.88 392.81 L1289.76 383.69 L1281.11 392.34 L1294.09 402.98Z" fill="#e7e2e3"/>
<path d="M1333.00 340.45 L1331.48 338.59 L1321.31 345.39 L1324.35 349.10Z" fill="#e5dddb"/>
<path d="M1324.35 349.10 L1321.31 345.39 L1311.14 352.18 L1315.71 357.74Z" fill="#e7e2e3"/>
<path d="M1315.71 357.74 L1311.14 352.18 L1300.97 358.98 L1307.06 366.39Z" fill="#e8e4e6"/>
<path d="M1298.41 375.04 L1290.81 365.77 L1280.64 372.57 L1289.76 383.69Z" fill="#e5dedd"/>
<path d="M1289.76 383.69 L1280.64 372.57 L1270.47 379.36 L1281.11 392.34Z" fill="#e6e0e0"/>
<path d="M1331.48 338.59 L1330.35 336.48 L1319.05 341.16 L1321.31 345.39Z" fill="#e2d8d3"/>
<path d="M1321.31 345.39 L1319.05 341.16 L1307.75 345.84 L1311.14 352.18Z" fill="#e5dddb"/>
<path d="M1311.14 352.18 L1307.75 345.84 L1296.45 350.52 L1300.97 358.98Z" fill="#dfd2c8"/>
<path d="M1300.97 358.98 L1296.45 350.52 L1285.15 355.20 L1290.81 365.77Z" fill="#eae7ea"/>
<path d="M1290.81 365.77 L1285.15 355.20 L1273.86 359.88 L1280.64 372.57Z" fill="#e9e6e9"/>
<path d="M1330.35 336.48 L1329.65 334.19 L1317.66 336.57 L1319.05 341.16Z" fill="#e1d6d0"/>
<path d="M1319.05 341.16 L1317.66 336.57 L1305.66 338.96 L1307.75 345.84Z" fill="#dfd2c9"/>
<path d="M1307.75 345.84 L1305.66 338.96 L1293.67 341.34 L1296.45 350.52Z" fill="#dfd2c8"/>
<path d="M1296.45 350.52 L1293.67 341.34 L1281.67 343.73 L1285.15 355.20Z" fill="#e9e6e9"/>
<path d="M1329.65 334.19 L1329.42 331.80 L1317.19 331.80 L1317.66 336.57Z" fill="#e2d8d3"/>
<path d="M1317.66 336.57 L1317.19 331.80 L1304.96 331.80 L1305.66 338.96Z" fill="#d3c0a2"/>
<path d="M1305.66 338.96 L1304.96 331.80 L1292.73 331.80 L1293.67 341.34Z" fill="#e4dbd8"/>
<path d="M1329.42 331.80 L1329.65 329.41 L1317.66 327.03 L1317.19 331.80Z" fill="#e1d6d0"/>
<path d="M1317.19 331.80 L1317.66 327.03 L1305.66 324.64 L1304.96 331.80Z" fill="#d3c0a2"/>
<path d="M1304.96 331.80 L1305.66 324.64 L1293.67 322.26 L1292.73 331.80Z" fill="#e2d9d4"/>
<path d="M1329.65 329.41 L1330.35 327.12 L1319.05 322.44 L1317.66 327.03Z" fill="#e1d7d1"/>
<path d="M1317.66 327.03 L1319.05 322.44 L1307.75 317.76 L1305.66 324.64Z" fill="#d9c8b6"/>
<path d="M1305.66 324.64 L1307.75 317.76 L1296.45 313.08 L1293.67 322.26Z" fill="#e6dfde"/>
<path d="M1330.35 327.12 L1331.48 325.01 L1321.31 318.21 L1319.05 322.44Z" fill="#e0d3cb"/>
<path d="M1319.05 322.44 L1321.31 318.21 L1311.14 311.42 L1307.75 317.76Z" fill="#ded0c4"/>
<path d="M1307.75 317.76 L1311.14 311.42 L1300.97 304.62 L1296.45 313.08Z" fill="#e6dfde"/>
<path d="M1296.45 313.08 L1300.97 304.62 L1290.81 297.83 L1285.15 308.40Z" fill="#e9e6e9"/>
<path d="M1331.48 325.01 L1333.00 323.15 L1324.35 314.50 L1321.31 318.21Z" fill="#dccdc0"/>
<path d="M1321.31 318.21 L1324.35 314.50 L1315.71 305.86 L1311.14 311.42Z" fill="#e2d9d4"/>
<path d="M1311.14 311.42 L1315.71 305.86 L1307.06 297.21 L1300.97 304.62Z" fill="#d4c1a6"/>
<path d="M1300.97 304.62 L1307.06 297.21 L1298.41 288.56 L1290.81 297.83Z" fill="#e2d9d4"/>
<path d="M1290.81 297.83 L1298.41 288.56 L1289.76 279.91 L1280.64 291.03Z" fill="#eae7eb"/>
<path d="M1333.00 323.15 L1334.86 321.63 L1328.06 311.46 L1324.35 314.50Z" fill="#ddcec2"/>
<path d="M1324.35 314.50 L1328.06 311.46 L1321.27 301.29 L1315.71 305.86Z" fill="#d9c8b5"/>
<path d="M1315.71 305.86 L1321.27 301.29 L1314.47 291.12 L1307.06 297.21Z" fill="#d8c6b0"/>
<path d="M1307.06 297.21 L1314.47 291.12 L1307.68 280.96 L1298.41 288.56Z" fill="#e3dbd7"/>
<path d="M1298.41 288.56 L1307.68 280.96 L1300.88 270.79 L1289.76 279.91Z" fill="#eae7eb"/>
<path d="M1334.86 321.63 L1336.97 320.50 L1332.29 309.20 L1328.06 311.46Z" fill="#e0d4cc"/>
<path d="M1328.06 311.46 L1332.29 309.20 L1327.61 297.90 L1321.27 301.29Z" fill="#d8c6b0"/>
<path d="M1321.27 301.29 L1327.61 297.90 L1322.93 286.60 L1314.47 291.12Z" fill="#c3b992"/>
<path d="M1314.47 291.12 L1322.93 286.60 L1318.25 275.30 L1307.68 280.96Z" fill="#a9b085"/>
<path d="M1307.68 280.96 L1318.25 275.30 L1313.57 264.01 L1300.88 270.79Z" fill="#cabb97"/>
<path d="M1300.88 270.79 L1313.57 264.01 L1308.89 252.71 L1294.09 260.62Z" fill="#e8e4e6"/>
<path d="M1336.97 320.50 L1339.26 319.80 L1336.88 307.81 L1332.29 309.20Z" fill="#e2d7d2"/>
<path d="M1332.29 309.20 L1336.88 307.81 L1334.49 295.81 L1327.61 297.90Z" fill="#ded1c6"/>
<path d="M1327.61 297.90 L1334.49 295.81 L1332.11 283.82 L1322.93 286.60Z" fill="#dccdbf"/>
<path d="M1322.93 286.60 L1332.11 283.82 L1329.72 271.82 L1318.25 275.30Z" fill="#a9b085"/>
<path d="M1318.25 275.30 L1329.72 271.82 L1327.33 259.83 L1313.57 264.01Z" fill="#dccdbf"/>
<path d="M1313.57 264.01 L1327.33 259.83 L1324.95 247.83 L1308.89 252.71Z" fill="#e6e0e0"/>
<path d="M1308.89 252.71 L1324.95 247.83 L1322.56 235.84 L1304.21 241.41Z" fill="#e8e4e6"/>
<path d="M1304.21 241.41 L1322.56 235.84 L1320.18 223.84 L1299.53 230.11Z" fill="#e7e2e3"/>
<path d="M1299.53 230.11 L1320.18 223.84 L1317.79 211.85 L1294.85 218.81Z" fill="#e9e6e9"/>
<path d="M1339.26 319.80 L1341.65 319.57 L1341.65 307.34 L1336.88 307.81Z" fill="#e5dddb"/>
<path d="M1336.88 307.81 L1341.65 307.34 L1341.65 295.11 L1334.49 295.81Z" fill="#d8c6b0"/>
<path d="M1334.49 295.81 L1341.65 295.11 L1341.65 282.88 L1332.11 283.82Z" fill="#e3dbd7"/>
<path d="M1332.11 283.82 L1341.65 282.88 L1341.65 270.65 L1329.72 271.82Z" fill="#eae7eb"/>
<path d="M1329.72 271.82 L1341.65 270.65 L1341.65 258.42 L1327.33 259.83Z" fill="#e5dedd"/>
<path d="M1327.33 259.83 L1341.65 258.42 L1341.65 246.19 L1324.95 247.83Z" fill="#ccbc99"/>
<path d="M1324.95 247.83 L1341.65 246.19 L1341.65 233.96 L1322.56 235.84Z" fill="#dfd2c8"/>
<path d="M1322.56 235.84 L1341.65 233.96 L1341.65 221.73 L1320.18 223.84Z" fill="#d6c4ac"/>
<path d="M1320.18 223.84 L1341.65 221.73 L1341.65 209.50 L1317.79 211.85Z" fill="#e1d7d1"/>
<path d="M1317.79 211.85 L1341.65 209.50 L1341.65 197.27 L1315.40 199.85Z" fill="#e5dedd"/>
</g>
<path d="M1341.65 331.80L1507.40 166.05M1341.65 331.80L1507.40 497.55M1341.65 331.80L1175.90 497.55M1341.65 331.80L1175.90 166.05M1342.5 97.40V566.20M1107.25 332.5H1576.05" stroke="#b0b0b0" stroke-width="1.1" fill="none"/>
<circle cx="1341.65" cy="331.8" r="67.27" stroke="#b0b0b0" stroke-width="1.1" fill="none"/>
<circle cx="1341.65" cy="331.8" r="134.54" stroke="#b0b0b0" stroke-width="1.1" fill="none"/>
<circle cx="1341.65" cy="331.8" r="201.81" stroke="#b0b0b0" stroke-width="1.1" fill="none"/>
<circle cx="1341.65" cy="331.8" r="234.4" stroke="#000" stroke-width="1.1" fill="none"/>
<rect x="1575.15" y="331.10" width="1.7" height="1.7" fill="#000"/>
<text x="1342.7" y="84.0" font-size="19.4" text-anchor="middle" font-family="DejaVu Sans, sans-serif">N</text>
<text x="1342.25" y="592" font-size="19.4" text-anchor="middle" font-family="DejaVu Sans, sans-serif">S</text>
<text x="1596.50" y="338" font-size="19.4" text-anchor="middle" font-family="DejaVu Sans, sans-serif">E</text>
<text x="1088.90" y="338" font-size="19.4" text-anchor="middle" font-family="DejaVu Sans, sans-serif">W</text>
<text x="1410.55" y="303" font-size="19.4" text-anchor="middle" font-family="DejaVu Sans, sans-serif">1</text>
<text x="1472.65" y="277" font-size="19.4" text-anchor="middle" font-family="DejaVu Sans, sans-serif">2</text>
<text x="1534.45" y="251" font-size="19.4" text-anchor="middle" font-family="DejaVu Sans, sans-serif">3</text>
<text x="1341.8" y="61" font-size="24.8" text-anchor="middle" font-family="DejaVu Sans, sans-serif">CIOFS-NWGOA</text>
<text x="805.65" y="32" font-size="27.78" text-anchor="middle" font-family="DejaVu Sans, sans-serif">Aug 2005</text>
<rect x="406.5" y="605.5" width="800" height="30" fill="url(#cb)" stroke="#000" stroke-width="1.1"/>
<path d="M406.50 635.5V657.3" stroke="#000" stroke-width="1.1"/>
<text x="406.25" y="681" font-size="22.2" text-anchor="middle" font-family="DejaVu Sans, sans-serif">0</text>
<path d="M563.50 635.5V657.3" stroke="#000" stroke-width="1.1"/>
<text x="563.11" y="681" font-size="22.2" text-anchor="middle" font-family="DejaVu Sans, sans-serif">10</text>
<path d="M720.50 635.5V657.3" stroke="#000" stroke-width="1.1"/>
<text x="719.98" y="681" font-size="22.2" text-anchor="middle" font-family="DejaVu Sans, sans-serif">20</text>
<path d="M876.50 635.5V657.3" stroke="#000" stroke-width="1.1"/>
<text x="876.84" y="681" font-size="22.2" text-anchor="middle" font-family="DejaVu Sans, sans-serif">30</text>
<path d="M1033.50 635.5V657.3" stroke="#000" stroke-width="1.1"/>
<text x="1033.70" y="681" font-size="22.2" text-anchor="middle" font-family="DejaVu Sans, sans-serif">40</text>
<path d="M1190.50 635.5V657.3" stroke="#000" stroke-width="1.1"/>
<text x="1190.56" y="681" font-size="22.2" text-anchor="middle" font-family="DejaVu Sans, sans-serif">50</text>
<text x="805.2" y="709" font-size="22.25" text-anchor="middle" font-family="DejaVu Sans, sans-serif">Currents [m/s] at COI0303; number of occurrences</text>
</svg>
</body></html>
